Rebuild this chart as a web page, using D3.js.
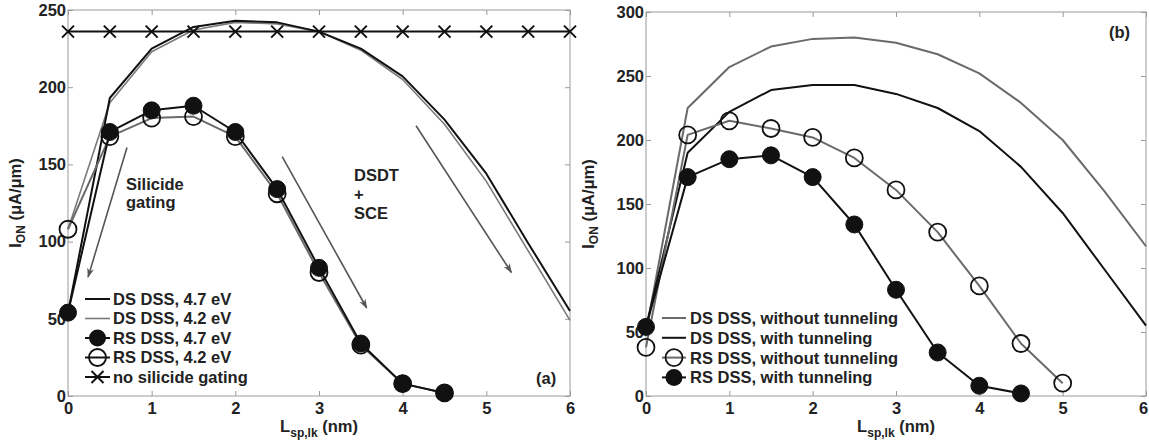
<!DOCTYPE html>
<html><head><meta charset="utf-8">
<script src="https://cdn.jsdelivr.net/npm/d3@7"></script>
<style>
body{margin:0;background:#fff;}
text{font-family:"Liberation Sans",Arial,sans-serif;font-weight:bold;fill:#222;}
</style></head>
<body><svg id="c" width="1149" height="446"></svg>
<script>
// ---------- data ----------
const xFull = [0,0.5,1,1.5,2,2.5,3,3.5,4,4.5,5,5.5,6];
const xRS = [0,0.5,1,1.5,2,2.5,3,3.5,4,4.5];
const xRSb = [0,0.5,1,1.5,2,2.5,3,3.5,4,4.5,5];

// panel (a)
const dsDss47 = [54,193,225,239,243,242,236,225,207,179,144,99,55];
const dsDss42 = [108,190,223,237,242,241,236,224,205,176,139,94,49];
const rsDss47 = [54,171,185,188,171,134,83,34,8,2];
const rsDss42 = [108,168,180,181,168,131,80,33,8,2];
const noSilicide = [236,236,236,236,236,236,236,236,236,236,236,236,236];
const legendA = ["DS DSS, 4.7 eV","DS DSS, 4.2 eV","RS DSS, 4.7 eV","RS DSS, 4.2 eV","no silicide gating"];
const yTicksA = [0,50,100,150,200,250];

// panel (b)
const dsNoTun = [50,225,257,273,279,280,276,267,252,229,200,160,117];
const dsTun = [54,190,222,239,243,243,236,225,207,179,143,99,55];
const rsNoTun = [38,204,215,209,202,186,161,128,86,41,10];
const rsTun = [54,171,185,188,171,134,83,34,8,2];
const legendB = ["DS DSS, without tunneling","DS DSS, with tunneling","RS DSS, without tunneling","RS DSS, with tunneling"];
const yTicksB = [0,50,100,150,200,250,300];
const xTicks = [0,1,2,3,4,5,6];

// annotations (data coords) for panel (a)
const arrowsA = [
  {x1:0.705,y1:161,x2:0.24,y2:77},
  {x1:2.56,y1:155,x2:3.57,y2:57},
  {x1:4.16,y1:175,x2:5.30,y2:80}
];

const FS = "16.5px";
const svg = d3.select("#c");
const BLACK="#111", GRAY="#6a6a6a", AXIS="#9a9a9a";

svg.append("defs").append("marker")
  .attr("id","arr").attr("viewBox","0 0 10 10").attr("refX",9).attr("refY",5)
  .attr("markerWidth",10).attr("markerHeight",10).attr("markerUnits","userSpaceOnUse")
  .attr("orient","auto")
  .append("path").attr("d","M0,1.5 L10,5 L0,8.5 L3,5 Z").attr("fill","#555");

function panel(opts){
  const g = svg.append("g");
  const x = d3.scaleLinear().domain([0,6]).range([opts.x0,opts.x1]);
  const y = d3.scaleLinear().domain([0,opts.ymax]).range([opts.yb,opts.yt]);
  g.append("rect").attr("x",opts.x0).attr("y",opts.yt).attr("width",opts.x1-opts.x0).attr("height",opts.yb-opts.yt)
    .attr("fill","none").attr("stroke",AXIS).attr("stroke-width",1);
  const tk=5;
  const bottom = d3.axisBottom(x).tickValues(xTicks).tickSize(-tk).tickFormat(d3.format("d"));
  const top = d3.axisTop(x).tickValues(xTicks).tickSize(-tk).tickFormat("");
  const left = d3.axisLeft(y).tickValues(opts.yTicks).tickSize(-tk).tickFormat(d3.format("d"));
  const right = d3.axisRight(y).tickValues(opts.yTicks).tickSize(-tk).tickFormat("");
  [[bottom,`translate(0,${opts.yb})`,"b"],[top,`translate(0,${opts.yt})`,"t"],[left,`translate(${opts.x0},0)`,"l"],[right,`translate(${opts.x1},0)`,"r"]].forEach(([ax,tr,k])=>{
    const a=g.append("g").attr("transform",tr).call(ax);
    a.select(".domain").remove();
    a.selectAll("line").attr("stroke",AXIS);
    a.selectAll("text").style("font-size",FS).style("font-family",null).attr("fill","#222");
    if(k==="b"){
      a.selectAll("text").attr("y",6);
      if(opts.lastShift) a.selectAll("text").filter(d=>d===6).attr("dx",opts.lastShift);
    }
    if(k==="l") a.selectAll("text").attr("x",-2);
  });
  const xt = g.append("text").attr("x",(opts.x0+opts.x1)/2).attr("y",432).attr("text-anchor","middle").style("font-size",FS);
  xt.append("tspan").text("L");
  xt.append("tspan").text("sp,lk").attr("dy",5).style("font-size","12px");
  xt.append("tspan").text(" (nm)").attr("dy",-5);
  const yt = g.append("text").attr("transform",`translate(${opts.ytx},${(opts.yt+opts.yb)/2}) rotate(-90)`).attr("text-anchor","middle").style("font-size",FS);
  yt.append("tspan").text("I");
  yt.append("tspan").text("ON").attr("dy",4).style("font-size","12px");
  yt.append("tspan").text(" (μA/μm)").attr("dy",-4);
  return {g,x,y};
}

function line(g,x,y,xs,ys,color,w){
  g.append("path").datum(xs.map((d,i)=>[d,ys[i]]))
    .attr("d",d3.line().x(d=>x(d[0])).y(d=>y(d[1])))
    .attr("fill","none").attr("stroke",color).attr("stroke-width",w).attr("stroke-linejoin","round");
}
function circles(g,x,y,xs,ys,filled){
  g.selectAll(null).data(xs.map((d,i)=>[d,ys[i]])).enter().append("circle")
    .attr("cx",d=>x(d[0])).attr("cy",d=>y(d[1])).attr("r",8.5)
    .attr("fill",filled?BLACK:"none").attr("stroke",BLACK).attr("stroke-width",filled?1:1.8);
}
function crosses(g,x,y,xs,ys){
  const s=6;
  g.selectAll(null).data(xs.map((d,i)=>[d,ys[i]])).enter().append("path")
    .attr("d",d=>{const cx=x(d[0]),cy=y(d[1]);return `M${cx-s},${cy-s}L${cx+s},${cy+s}M${cx-s},${cy+s}L${cx+s},${cy-s}`;})
    .attr("stroke",BLACK).attr("stroke-width",2).attr("fill","none");
}
const txt=(g,x,y,s,anchor)=>g.append("text").attr("x",x).attr("y",y).text(s).style("font-size",FS).attr("text-anchor",anchor||"start");

// ---------- panel (a) ----------
const A = panel({x0:68,x1:570,yt:10,yb:396,ymax:250,yTicks:yTicksA,ytx:21});
line(A.g,A.x,A.y,xFull,dsDss42,"#7a7a7a",1.6);
line(A.g,A.x,A.y,xFull,dsDss47,BLACK,2);
line(A.g,A.x,A.y,xFull,noSilicide,BLACK,2);
crosses(A.g,A.x,A.y,xFull,noSilicide);
line(A.g,A.x,A.y,xRS,rsDss42,GRAY,2);
circles(A.g,A.x,A.y,xRS,rsDss42,false);
line(A.g,A.x,A.y,xRS,rsDss47,BLACK,2);
circles(A.g,A.x,A.y,xRS,rsDss47,true);
arrowsA.forEach(a=>{
  A.g.append("line").attr("x1",A.x(a.x1)).attr("y1",A.y(a.y1)).attr("x2",A.x(a.x2)).attr("y2",A.y(a.y2))
    .attr("stroke","#555").attr("stroke-width",1.6).attr("marker-end","url(#arr)");
});
txt(A.g,126,190,"Silicide");
txt(A.g,126,208,"gating");
txt(A.g,354,181,"DSDT");
txt(A.g,354,200,"+");
txt(A.g,354,219,"SCE");
txt(A.g,536,384,"(a)");
legendA.forEach((s,i)=>{
  const cy=299+i*19.5, lx0=85, lx1=110, cx=(lx0+lx1)/2;
  const col = i===1?"#7a7a7a":BLACK;
  A.g.append("line").attr("x1",lx0).attr("x2",lx1).attr("y1",cy).attr("y2",cy).attr("stroke",col).attr("stroke-width",i===1?1.6:2);
  if(i===2) A.g.append("circle").attr("cx",cx).attr("cy",cy).attr("r",8.5).attr("fill",BLACK);
  if(i===3) A.g.append("circle").attr("cx",cx).attr("cy",cy).attr("r",8.5).attr("fill","none").attr("stroke",BLACK).attr("stroke-width",1.8);
  if(i===4) A.g.append("path").attr("d",`M${cx-6},${cy-6}L${cx+6},${cy+6}M${cx-6},${cy+6}L${cx+6},${cy-6}`).attr("stroke",BLACK).attr("stroke-width",2);
  A.g.append("text").attr("x",113).attr("y",cy).attr("dy","0.36em").text(s).style("font-size",FS);
});

// ---------- panel (b) ----------
const B = panel({x0:646,x1:1146,yt:12,yb:396,ymax:300,yTicks:yTicksB,ytx:594,lastShift:-3});
line(B.g,B.x,B.y,xFull,dsNoTun,GRAY,2);
line(B.g,B.x,B.y,xFull,dsTun,BLACK,2);
line(B.g,B.x,B.y,xRSb,rsNoTun,GRAY,2);
circles(B.g,B.x,B.y,xRSb,rsNoTun,false);
line(B.g,B.x,B.y,xRS,rsTun,BLACK,2);
circles(B.g,B.x,B.y,xRS,rsTun,true);
txt(B.g,1109,38,"(b)");
legendB.forEach((s,i)=>{
  const cy=318+i*19.8, lx0=662, lx1=686, cx=(lx0+lx1)/2;
  const col = (i===0||i===2)?GRAY:BLACK;
  B.g.append("line").attr("x1",lx0).attr("x2",lx1).attr("y1",cy).attr("y2",cy).attr("stroke",col).attr("stroke-width",2);
  if(i===2) B.g.append("circle").attr("cx",cx).attr("cy",cy).attr("r",8.5).attr("fill","none").attr("stroke",BLACK).attr("stroke-width",1.8);
  if(i===3) B.g.append("circle").attr("cx",cx).attr("cy",cy).attr("r",8.5).attr("fill",BLACK);
  B.g.append("text").attr("x",690).attr("y",cy).attr("dy","0.36em").text(s).style("font-size",FS);
});
</script></body></html>
